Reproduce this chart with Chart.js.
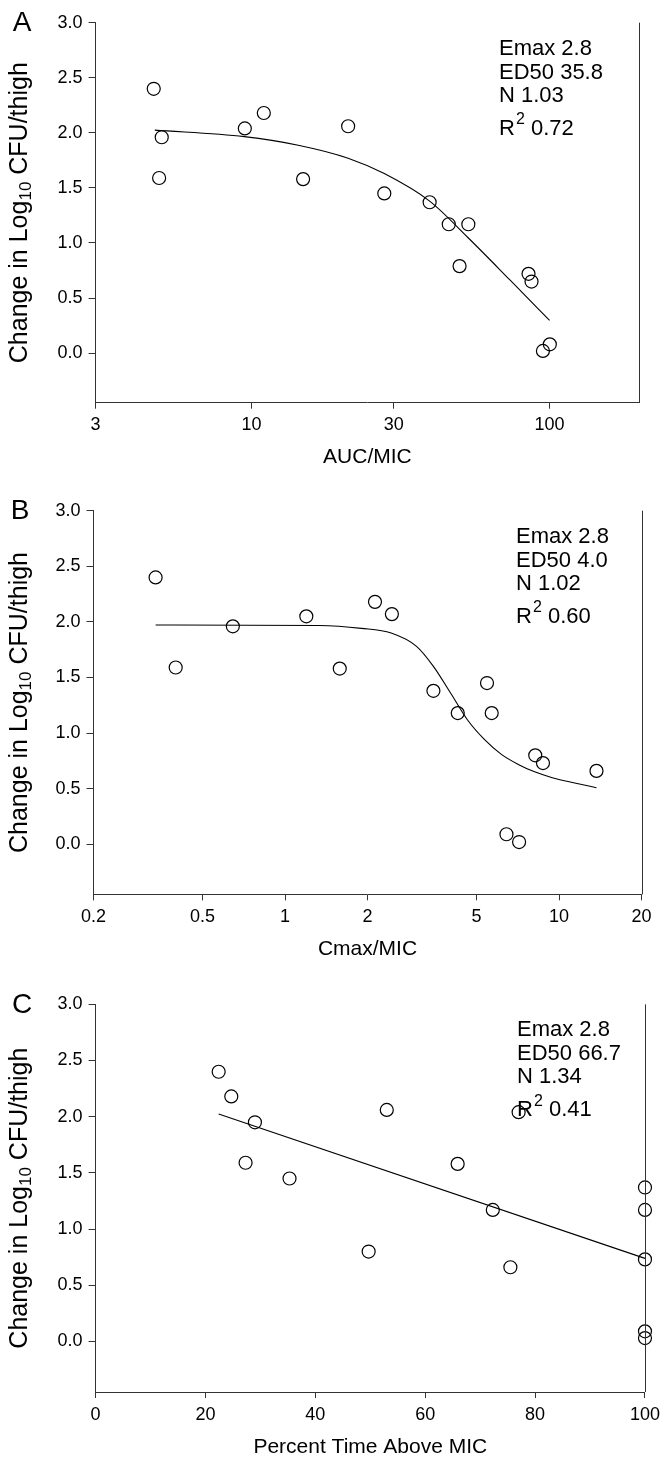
<!DOCTYPE html>
<html><head><meta charset="utf-8">
<script src="https://cdn.jsdelivr.net/npm/chart.js@4.4.1/dist/chart.umd.min.js"></script>
<style>
html,body{margin:0;padding:0;background:#fff;}
#wrap{position:relative;width:666px;height:1459px;overflow:hidden;background:#fff;}
canvas{position:absolute;left:0;}
</style></head><body>
<div id="wrap">
<canvas id="cA" width="666" height="486" style="top:0px"></canvas>
<canvas id="cB" width="666" height="487" style="top:486px"></canvas>
<canvas id="cC" width="666" height="486" style="top:973px"></canvas>
</div>
<script>
// ---------- DATA ----------
const yTickValues = [0, 0.5, 1.0, 1.5, 2.0, 2.5, 3.0];
const yTickLabels = ['0.0', '0.5', '1.0', '1.5', '2.0', '2.5', '3.0'];
const yTitleMain = 'Change in Log';
const yTitleSub = '10';
const yTitleEnd = ' CFU/thigh';

// Panel A: AUC/MIC
const aucX = [4.7, 5.0, 4.9, 9.5, 11.0, 14.9, 21.1, 27.9, 39.6, 45.9, 53.4, 49.9, 85.0, 87.0, 95.0, 100.2];
const aucY = [2.40, 1.96, 1.59, 2.04, 2.18, 1.58, 2.06, 1.45, 1.37, 1.17, 1.17, 0.79, 0.72, 0.65, 0.02, 0.08];
const aucFitX = [4.74, 9.46, 14.35, 21.1, 27.9, 39.6, 53.2, 73.9, 100];
const aucFitY = [2.025, 1.966, 1.888, 1.77, 1.63, 1.38, 1.05, 0.66, 0.297];
const aucTicks = [3, 10, 30, 100];
const aucTickLabels = ['3', '10', '30', '100'];
const aucStats = ['Emax 2.8', 'ED50 35.8', 'N 1.03', '0.72'];

// Panel B: Cmax/MIC
const cmaxX = [0.337, 0.399, 0.645, 1.196, 1.584, 2.13, 2.455, 3.48, 5.46, 4.27, 5.68, 8.19, 8.74, 13.7, 6.43, 7.15];
const cmaxY = [2.40, 1.59, 1.96, 2.05, 1.58, 2.18, 2.07, 1.38, 1.45, 1.18, 1.18, 0.80, 0.73, 0.66, 0.09, 0.02];
const cmaxFitX = [0.337, 1.33, 1.9, 2.44, 3.02, 3.48, 4.02, 4.63, 5.34, 6.16, 7.1, 8.19, 9.45, 11.3, 13.7];
const cmaxFitY = [1.972, 1.968, 1.942, 1.90, 1.78, 1.60, 1.36, 1.12, 0.943, 0.808, 0.718, 0.649, 0.599, 0.554, 0.509];
const cmaxTicks = [0.2, 0.5, 1, 2, 5, 10, 20];
const cmaxTickLabels = ['0.2', '0.5', '1', '2', '5', '10', '20'];
const cmaxStats = ['Emax 2.8', 'ED50 4.0', 'N 1.02', '0.60'];

// Panel C: Percent Time Above MIC
const tX = [22.4, 24.7, 29.0, 27.3, 35.3, 53.0, 65.9, 77.0, 72.3, 49.7, 75.5, 100, 100, 100, 100, 100];
const tY = [2.40, 2.18, 1.95, 1.59, 1.45, 2.06, 1.58, 2.04, 1.17, 0.80, 0.66, 1.37, 1.17, 0.73, 0.09, 0.03];
const tFitX = [22.4, 100];
const tFitY = [2.024, 0.739];
const tTicks = [0, 20, 40, 60, 80, 100];
const tTickLabels = ['0', '20', '40', '60', '80', '100'];
const tStats = ['Emax 2.8', 'ED50 66.7', 'N 1.34', '0.41'];

// ---------- STYLE ----------
const FAM = '"Liberation Sans", Arial, Helvetica, sans-serif';
const AXIS = '#333';
Chart.defaults.font.family = FAM;
Chart.defaults.color = '#000';

function toPts(xs, ys) { return xs.map((x, i) => ({ x: x, y: ys[i] })); }

function decoPlugin(p) {
  return {
    id: 'deco' + p.letter,
    afterDraw(chart) {
      const ctx = chart.ctx, a = chart.chartArea;
      ctx.save();
      // right frame line
      ctx.strokeStyle = AXIS; ctx.lineWidth = 1;
      const rx = Math.round(a.right) + 0.5;
      ctx.beginPath(); ctx.moveTo(rx, a.top); ctx.lineTo(rx, a.bottom); ctx.stroke();
      ctx.fillStyle = '#000';
      // panel letter
      ctx.font = '28px ' + FAM; ctx.textAlign = 'center'; ctx.textBaseline = 'middle';
      ctx.fillText(p.letter, p.letterX, a.top + 1);
      // x title
      ctx.font = '21px ' + FAM;
      ctx.fillText(p.xTitle, (a.left + a.right) / 2, a.bottom + 55);
      // annotations
      ctx.textAlign = 'left';
      ctx.font = '22px ' + FAM;
      ctx.fillText(p.stats[0], p.annoX, a.top + 26);
      ctx.fillText(p.stats[1], p.annoX, a.top + 50);
      ctx.fillText(p.stats[2], p.annoX, a.top + 73);
      let x = p.annoX;
      ctx.fillText('R', x, a.top + 106); x += ctx.measureText('R').width + 1;
      ctx.font = '16px ' + FAM;
      ctx.fillText('2', x, a.top + 97); x += ctx.measureText('2').width;
      ctx.font = '22px ' + FAM;
      ctx.fillText(' ' + p.stats[3], x, a.top + 106);
      // y title (rotated with subscript)
      const big = '25px ' + FAM, small = '17px ' + FAM;
      ctx.font = big;
      const w1 = ctx.measureText(yTitleMain).width, w3 = ctx.measureText(yTitleEnd).width;
      ctx.font = small;
      const w2 = ctx.measureText(yTitleSub).width;
      const total = w1 + w2 + w3;
      ctx.translate(20, (a.top + a.bottom) / 2);
      ctx.rotate(-Math.PI / 2);
      let tx = -total / 2;
      ctx.font = big; ctx.fillText(yTitleMain, tx, 0); tx += w1;
      ctx.font = small; ctx.fillText(yTitleSub, tx, 6); tx += w2;
      ctx.font = big; ctx.fillText(yTitleEnd, tx, 0);
      ctx.restore();
    }
  };
}

function makeChart(id, p) {
  const canvasH = document.getElementById(id).height;
  return new Chart(document.getElementById(id), {
    type: 'scatter',
    data: {
      datasets: [
        {
          type: 'line', data: toPts(p.fitX, p.fitY), showLine: true,
          borderColor: '#000', borderWidth: 1.1, pointRadius: 0, fill: false,
          cubicInterpolationMode: 'monotone', clip: false
        },
        {
          data: toPts(p.xs, p.ys), pointStyle: 'circle', pointRadius: 6.5,
          pointBorderWidth: 1.2, borderColor: '#000', pointBorderColor: '#000',
          backgroundColor: 'rgba(0,0,0,0)', pointBackgroundColor: 'rgba(0,0,0,0)', clip: false
        }
      ]
    },
    options: {
      responsive: false, animation: false,
      layout: { padding: { left: 0, top: p.area.t, right: 666 - p.area.r, bottom: 0 } },
      plugins: { legend: { display: false }, tooltip: { enabled: false } },
      scales: {
        x: {
          type: p.xType, min: p.xMin, max: p.xMax,
          grid: { display: true, drawOnChartArea: false, drawTicks: true, tickLength: 6, color: AXIS },
          border: { display: true, color: AXIS, width: 1 },
          ticks: {
            autoSkip: false, maxRotation: 0, minRotation: 0, padding: 6,
            font: { size: 18 }, color: '#000',
            callback: (v, i) => p.tickLabels[i]
          },
          afterBuildTicks: s => { s.ticks = p.ticks.map(v => ({ value: v })); },
          afterFit: s => { s.height = canvasH - p.area.b; }
        },
        y: {
          type: 'linear', min: -0.45, max: 3.0,
          grid: { display: true, drawOnChartArea: false, drawTicks: true, tickLength: 7, color: AXIS },
          border: { display: true, color: AXIS, width: 1 },
          ticks: {
            autoSkip: false, padding: 6, font: { size: 18 }, color: '#000',
            callback: (v, i) => yTickLabels[i]
          },
          afterBuildTicks: s => { s.ticks = yTickValues.map(v => ({ value: v })); },
          afterFit: s => { s.width = p.area.l; }
        }
      }
    },
    plugins: [decoPlugin(p)]
  });
}

makeChart('cA', {
  letter: 'A', letterX: 22, xTitle: 'AUC/MIC', annoX: 499, stats: aucStats,
  xs: aucX, ys: aucY, fitX: aucFitX, fitY: aucFitY,
  xType: 'logarithmic', xMin: 3, xMax: 200, ticks: aucTicks, tickLabels: aucTickLabels,
  area: { l: 95.6, r: 639.3, t: 22.7, b: 402.7 }
});
makeChart('cB', {
  letter: 'B', letterX: 20, xTitle: 'Cmax/MIC', annoX: 516, stats: cmaxStats,
  xs: cmaxX, ys: cmaxY, fitX: cmaxFitX, fitY: cmaxFitY,
  xType: 'logarithmic', xMin: 0.2, xMax: 20, ticks: cmaxTicks, tickLabels: cmaxTickLabels,
  area: { l: 93.5, r: 641.5, t: 24.7, b: 408.3 }
});
makeChart('cC', {
  letter: 'C', letterX: 22, xTitle: 'Percent Time Above MIC', annoX: 517, stats: tStats,
  xs: tX, ys: tY, fitX: tFitX, fitY: tFitY,
  xType: 'linear', xMin: 0, xMax: 100, ticks: tTicks, tickLabels: tTickLabels,
  area: { l: 95.6, r: 650, t: 31.3, b: 419 }
});
</script>
</body></html>
